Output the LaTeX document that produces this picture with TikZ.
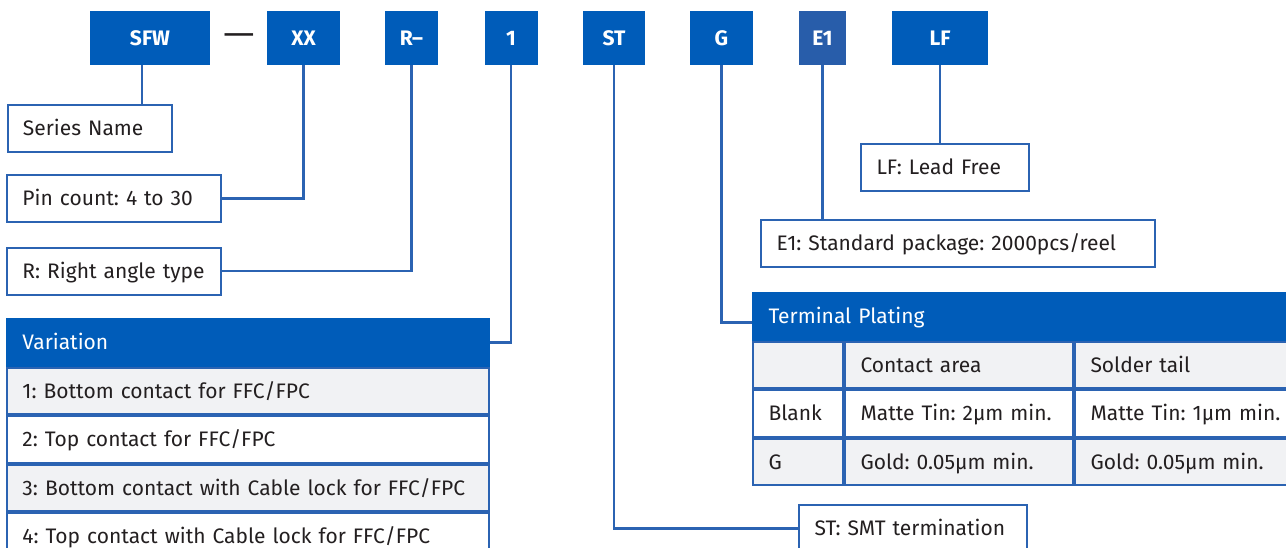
\documentclass[tikz,border=0pt]{standalone}
\usepackage{fontspec}
\setmainfont{Fira Sans}
\usetikzlibrary{positioning}
\frenchspacing

\definecolor{codeblue}{RGB}{0,92,185}
\definecolor{codeblueb}{RGB}{40,93,170}
\definecolor{linkblue}{RGB}{43,99,178}
\definecolor{rowgray}{RGB}{241,242,244}
\definecolor{inktext}{RGB}{35,31,32}

\begin{document}
\begin{tikzpicture}[x=1pt, y=-1pt,
    code/.style={fill=codeblue, text=white, inner sep=0pt, minimum height=54pt,
        font=\fontsize{21}{24}\selectfont\bfseries, text height=18.5pt, text depth=4pt},
    desc/.style={draw=linkblue, line width=2pt, fill=white, text=inktext,
        inner xsep=15.5pt, inner ysep=0pt, minimum height=47pt, text width=#1, align=left,
        font=\fontsize{21}{25}\selectfont, text height=19.5pt, text depth=5pt},
    tablehead/.style={desc=#1, fill=codeblue, draw=codeblue, text=white},
    cellw/.style={desc=#1, minimum height=46.3pt},
    cellg/.style={desc=#1, minimum height=46.3pt, fill=rowgray},
    link/.style={draw=linkblue, line width=2.4pt}
]
\useasboundingbox (0,0) rectangle (1286,547);
\clip (0,0) rectangle (1286,547);

\node[code, minimum width=120pt] (sfw) at (150,38) {SFW};
\node[text=inktext, font=\fontsize{21}{24}\selectfont\bfseries] (dash) at (239,38) {\scalebox{1.8}[1]{—}};
\node[code, minimum width=73pt] (xx) at (303.5,38) {XX};
\node[code, minimum width=53pt] (rdash) at (411.5,38) {R–};
\node[code, minimum width=53pt] (one) at (511,38) {1};
\node[code, minimum width=62pt] (st) at (614,38) {ST};
\node[code, minimum width=63pt] (g) at (721.5,38) {G};
\node[code, minimum width=47pt, fill=codeblueb] (e1) at (822.5,38) {E1};
\node[code, minimum width=96pt] (lf) at (940,38) {LF};

\node[desc=133.5pt] (series) at (89.75,128.5) {Series Name};
\node[desc=183pt] (pin) at (114,198.5) {Pin count: 4 to 30};
\node[desc=183pt] (rangle) at (114,271) {R: Right angle type};
\node[desc=137pt] (lead) at (945,167) {LF: Lead Free};
\node[desc=363pt] (pack) at (958,243.5) {E1: Standard package: 2000pcs/reel};
\node[desc=197pt] (smt) at (913,528.5) {ST: SMT termination};

\node[tablehead=451pt] (var) at (248,342.5) {Variation};
\node[cellg=451pt, below=0pt of var] (var1) {1: Bottom contact for FFC/FPC};
\node[cellw=451pt, below=0pt of var1] (var2) {2: Top contact for FFC/FPC};
\node[cellg=451pt, below=0pt of var2] (var3) {3: Bottom contact with Cable lock for FFC/FPC};
\node[cellw=451pt, below=0pt of var3] (var4) {4: Top contact with Cable lock for FFC/FPC};

\node[tablehead=516pt, minimum height=47.3pt] (plating) at (1026.5,316.4) {Terminal Plating};
\node[cellg=59pt, anchor=north west] (platea) at (plating.south west) {};
\node[cellg=197pt, right=0pt of platea] (plateb) {Contact area};
\node[cellg=198pt, right=0pt of plateb] (platec) {Solder tail};
\node[cellw=59pt, below=0pt of platea] (blank) {Blank};
\node[cellw=197pt, right=0pt of blank] (blankb) {Matte Tin: 2µm min.};
\node[cellw=198pt, right=0pt of blankb] (blankc) {Matte Tin: 1µm min.};
\node[cellg=59pt, below=0pt of blank] (gold) {G};
\node[cellg=197pt, right=0pt of gold] (goldb) {Gold: 0.05µm min.};
\node[cellg=198pt, right=0pt of goldb] (goldc) {Gold: 0.05µm min.};

\coordinate (sfwfoot) at ([xshift=-8.3pt]sfw.south);
\draw[link] (sfwfoot) -- (sfwfoot |- series.north);
\draw[link] (xx.south) |- (pin.east);
\draw[link] (rdash.south) |- (rangle.east);
\draw[link] (one.south) |- (var.east);
\draw[link] (st.south) |- (smt.west);
\coordinate (platein) at ([yshift=-6pt]plating.west);
\draw[link] (g.south) |- (platein);
\draw[link] (e1.south) -- (e1.south |- pack.north);
\draw[link] (lf.south) -- (lf.south |- lead.north);
\end{tikzpicture}
\end{document}
